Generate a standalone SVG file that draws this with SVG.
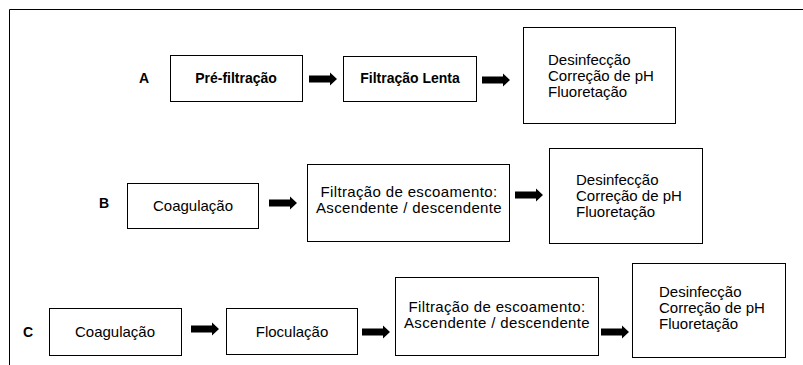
<svg xmlns="http://www.w3.org/2000/svg" width="803" height="365" viewBox="0 0 803 365">
<style>
.box{fill:#fff;stroke:#000;stroke-width:1}
.t{font-family:"Liberation Sans",Arial,sans-serif;font-size:15px;fill:#000}
.w{letter-spacing:0.35px}
.b{font-family:"Liberation Sans",Arial,sans-serif;font-size:14px;font-weight:bold;fill:#000}
.c{text-anchor:middle}
.arr{fill:#000}
</style>
<defs>
<path id="arrow" d="M0,-3.5 H21 V-6.5 L28,0 L21,6.5 V3.5 H0 Z"/>
</defs>
<rect x="0" y="0" width="803" height="365" fill="#fff"/>
<g id="frame" fill="none" stroke="#000" stroke-width="1">
<path d="M9.5,365 V9.5 H803"/>
</g>
<g id="labels">
<text class="b" x="139" y="83">A</text>
<text class="b" x="99" y="208">B</text>
<text class="b" x="23" y="337">C</text>
</g>
<g id="A1"><rect class="box" x="170.5" y="55.5" width="132" height="46"/><text class="b c" x="236" y="83">Pré-filtração</text></g>
<g id="A2"><rect class="box" x="343.5" y="56.5" width="133" height="45"/><text class="b c" x="410" y="83">Filtração Lenta</text></g>
<g id="A3"><rect class="box" x="523.5" y="27.5" width="152" height="96"/><text class="t" x="548" y="65">Desinfecção</text><text class="t" x="548" y="81">Correção de pH</text><text class="t" x="548" y="97">Fluoretação</text></g>
<g id="B1"><rect class="box" x="127.5" y="183.5" width="131" height="45"/><text class="t c" x="193" y="211">Coagulação</text></g>
<g id="B2"><rect class="box" x="307.5" y="164.5" width="202" height="77"/><text class="t c w" x="409" y="197">Filtração de escoamento:</text><text class="t c w" x="409" y="213">Ascendente / descendente</text></g>
<g id="B3"><rect class="box" x="549.5" y="148.5" width="153" height="95"/><text class="t" x="576" y="185">Desinfecção</text><text class="t" x="576" y="201">Correção de pH</text><text class="t" x="576" y="217">Fluoretação</text></g>
<g id="C1"><rect class="box" x="49.5" y="308.5" width="132" height="47"/><text class="t c" x="115" y="337">Coagulação</text></g>
<g id="C2"><rect class="box" x="226.5" y="308.5" width="131" height="46"/><text class="t c" x="292" y="337">Floculação</text></g>
<g id="C3"><rect class="box" x="395.5" y="277.5" width="203" height="78"/><text class="t c w" x="497" y="312">Filtração de escoamento:</text><text class="t c w" x="497" y="328">Ascendente / descendente</text></g>
<g id="C4"><rect class="box" x="632.5" y="263.5" width="153" height="94"/><text class="t" x="659" y="297">Desinfecção</text><text class="t" x="659" y="313">Correção de pH</text><text class="t" x="659" y="329">Fluoretação</text></g>
<g id="connectors" class="arr">
<use href="#arrow" x="309" y="79"/>
<use href="#arrow" x="482" y="80"/>
<use href="#arrow" x="269" y="203"/>
<use href="#arrow" x="515" y="195"/>
<use href="#arrow" x="191" y="329"/>
<use href="#arrow" x="362" y="332"/>
<use href="#arrow" x="601" y="332"/>
</g>
</svg>
